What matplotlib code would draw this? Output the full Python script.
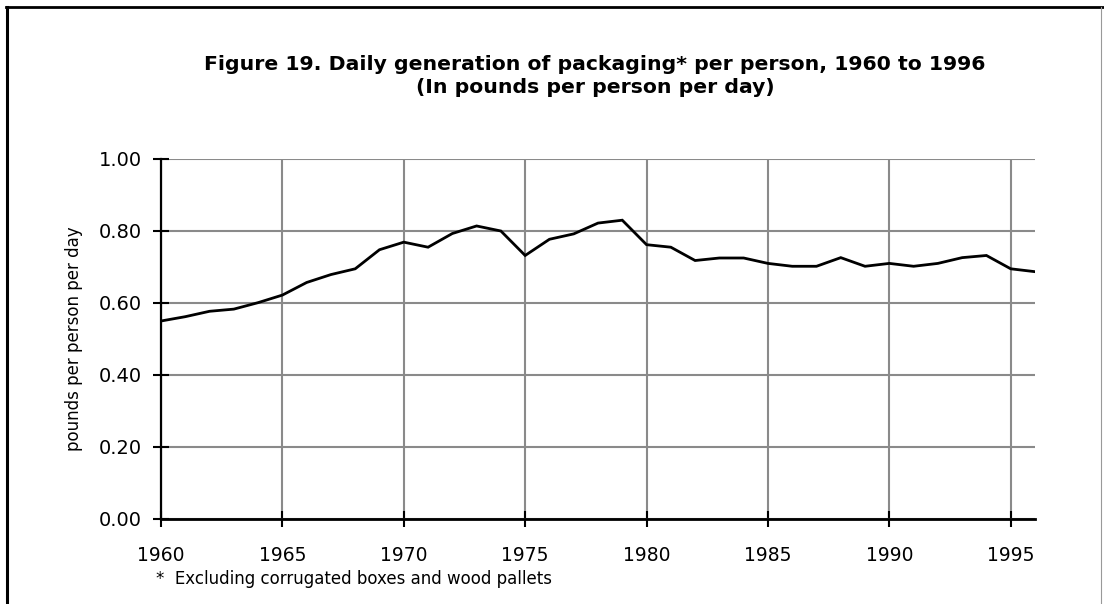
import matplotlib
matplotlib.use("Agg")
import matplotlib.pyplot as plt
from matplotlib.lines import Line2D

years = list(range(1960, 1997))
values = [0.55, 0.562, 0.577, 0.583, 0.601, 0.622, 0.657, 0.679, 0.695, 0.748,
          0.769, 0.755, 0.793, 0.814, 0.800, 0.732, 0.777, 0.792, 0.822, 0.830,
          0.762, 0.755, 0.718, 0.725, 0.725, 0.710, 0.702, 0.702, 0.726, 0.702,
          0.710, 0.702, 0.710, 0.726, 0.732, 0.695, 0.687]
x_ticks = [1960, 1965, 1970, 1975, 1980, 1985, 1990, 1995]
y_ticks = [0.0, 0.2, 0.4, 0.6, 0.8, 1.0]
y_tick_labels = ["0.00", "0.20", "0.40", "0.60", "0.80", "1.00"]

title = ("Figure 19. Daily generation of packaging* per person, 1960 to 1996\n"
         "(In pounds per person per day)")
ylabel = "pounds per person per day"
footnote = "*  Excluding corrugated boxes and wood pallets"

W, H = 1104, 604
fig = plt.figure(figsize=(W / 100, H / 100), dpi=100)
fig.patch.set_facecolor("white")

left, right, bottom, top = 161, 1035, 519, 159
ax = fig.add_axes([left / W, 1 - bottom / H, (right - left) / W, (bottom - top) / H])

ax.plot(years, values, color="black", linewidth=2.0, solid_joinstyle="miter")

ax.set_xlim(1960, 1996)
ax.set_ylim(0, 1.0)
ax.set_xticks(x_ticks)
ax.set_xticklabels([str(t) for t in x_ticks])
ax.set_yticks(y_ticks)
ax.set_yticklabels(y_tick_labels)

ax.grid(True, color="#8a8a8a", linewidth=1.5)
ax.set_axisbelow(True)
for s in ["top", "right"]:
    ax.spines[s].set_visible(False)
ax.spines["left"].set_linewidth(1.6)
ax.spines["bottom"].set_linewidth(2.0)
ax.spines["left"].set_zorder(3)
ax.spines["bottom"].set_zorder(3)

ax.tick_params(axis="y", direction="inout", length=11.5, width=1.5, pad=8,
               labelsize=14, colors="black")
ax.tick_params(axis="x", direction="inout", length=11, width=1.5, pad=14,
               labelsize=13.5, colors="black")
for lab in ax.get_xticklabels() + ax.get_yticklabels():
    lab.set_fontfamily("DejaVu Sans")

ax.set_ylabel(ylabel, fontsize=12, family="DejaVu Sans")
ax.yaxis.set_label_coords(-0.0895, 0.5)

fig.text(595 / W, 1 - 76 / H, title, ha="center", va="center",
         multialignment="center", fontsize=14.7, fontweight="bold",
         family="DejaVu Sans", linespacing=1.3)

fig.text(156 / W, 1 - 579 / H, footnote, ha="left", va="center",
         fontsize=12, family="DejaVu Sans")

# outer frame (left, top black; right thin grey)
fig.add_artist(Line2D([7 / W, 7 / W], [0, 1 - 7 / H], color="black", linewidth=2.2,
                      transform=fig.transFigure))
fig.add_artist(Line2D([6 / W, 1], [1 - 7 / H, 1 - 7 / H], color="black", linewidth=2.0,
                      transform=fig.transFigure))
fig.add_artist(Line2D([1101 / W, 1101 / W], [0, 1 - 7 / H], color="#999999", linewidth=0.8,
                      transform=fig.transFigure))

fig.savefig("out.png", dpi=100)
